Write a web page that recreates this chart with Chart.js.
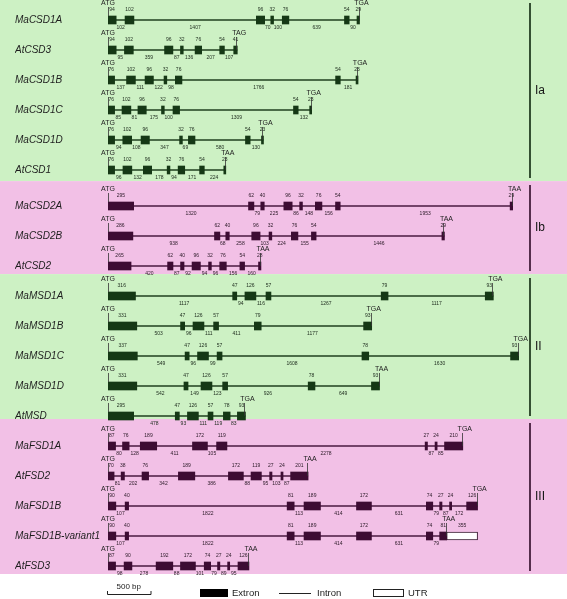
<!DOCTYPE html>
<html><head><meta charset="utf-8">
<script src="https://cdn.jsdelivr.net/npm/chart.js@4/dist/chart.umd.min.js"></script>
<style>html,body{margin:0;padding:0;background:#fff;}#wrap{width:567px;height:599px;position:relative;}</style>
</head><body><div id="wrap"><canvas id="c" width="567" height="599"></canvas></div>
<script>
// ---------- DATA ----------
const genes = ['MaCSD1A','AtCSD3','MaCSD1B','MaCSD1C','MaCSD1D','AtCSD1','MaCSD2A','MaCSD2B','AtCSD2','MaMSD1A','MaMSD1B','MaMSD1C','MaMSD1D','AtMSD','MaFSD1A','AtFSD2','MaFSD1B','MaFSD1B-variant1','AtFSD3'];
const geneGroups = ['Ia','Ia','Ia','Ia','Ia','Ia','Ib','Ib','Ib','II','II','II','II','II','III','III','III','III','III'];
const groupNames = ['Ia','Ib','II','III'];
const exonLengths = [
  [94,102,96,32,76,54,29],
  [94,102,96,32,76,54,41],
  [76,102,96,32,76,54,23],
  [76,102,96,32,76,54,23],
  [76,102,96,32,76,54,23],
  [76,102,96,32,76,54,23],
  [295,62,40,96,32,76,54,29],
  [286,62,40,96,32,76,54,29],
  [265,62,40,96,32,76,54,28],
  [316,47,126,57,79,93],
  [331,47,126,57,79,93],
  [337,47,126,57,78,93],
  [331,47,126,57,78,93],
  [295,47,126,57,78,93],
  [87,76,189,172,119,27,24,210],
  [70,38,76,189,172,119,27,24,201],
  [90,40,81,189,172,74,27,24,126],
  [90,40,81,189,172,74,81],
  [87,90,192,172,74,27,24,126]
];
const intronLengths = [
  [102,1407,70,100,639,90],
  [95,359,87,136,207,107],
  [137,111,122,98,1766,181],
  [85,81,175,100,1309,132],
  [94,108,347,69,580,130],
  [96,132,178,94,171,224],
  [1320,79,225,86,148,156,1953],
  [938,68,258,103,224,155,1446],
  [420,87,92,94,96,156,160],
  [1117,94,116,1267,1117],
  [503,96,111,411,1177],
  [549,96,99,1608,1630],
  [542,149,123,926,649],
  [478,93,111,119,83],
  [80,128,411,105,2278,87,85],
  [81,202,342,386,88,95,103,87],
  [107,1822,113,414,631,79,87,172],
  [107,1822,113,414,631,79],
  [98,278,88,101,79,89,95]
];
const utrLengths = [0,0,0,0,0,0,0,0,0,0,0,0,0,0,0,0,0,355,0];
const startCodon = 'ATG';
const stopCodons = ['TGA','TAG','TGA','TGA','TGA','TAA','TAA','TAA','TAA','TGA','TGA','TGA','TAA','TGA','TGA','TAA','TGA','TAA','TAA'];
const scaleBarBp = 500;
const legendLabels = ['500 bp','Extron','Intron','UTR'];

// ---------- LAYOUT / STYLE ----------
const GREEN = {bg:'rgb(205,241,196)', exon:'#153815', line:'#1f3f1f', sep:'#0e270e', text:'#1d2b1d'};
const PINK  = {bg:'rgb(242,192,230)', exon:'#3d0c33', line:'#4a1a40', sep:'#2e0826', text:'#2b1a27'};
const groupStyle = {Ia:GREEN, Ib:PINK, II:GREEN, III:PINK};
const bandEdges = [-0.667, 5.37, 8.47, 13.3, 18.467];
function rowValue(i){ return i + (geneGroups[i]==='Ia' ? 0 : 0.2); }

function layoutGene(i){
  let pos = 0; const ex = [], intr = [];
  exonLengths[i].forEach((len,k)=>{
    ex.push([pos,pos+len,len]); pos += len;
    if (k < intronLengths[i].length){ const L = intronLengths[i][k]; intr.push([pos,pos+L,L]); pos += L; }
  });
  const utr = utrLengths[i] ? [pos,pos+utrLengths[i],utrLengths[i]] : null;
  return {ex, intr, end:pos, utr};
}
const layouts = genes.map((g,i)=>layoutGene(i));

const exonData = [], exonColors = [];
layouts.forEach((L,i)=>L.ex.forEach(e=>{ exonData.push({x:[e[0],e[1]], y:rowValue(i)}); exonColors.push(groupStyle[geneGroups[i]].exon); }));
const utrData = [];
layouts.forEach((L,i)=>{ if (L.utr) utrData.push({x:[L.utr[0],L.utr[1]], y:rowValue(i)}); });

const datasets = [
  {type:'bar', label:'Extron', data:exonData, backgroundColor:exonColors, borderWidth:0, barThickness:8, grouped:false, order:0},
  {type:'bar', label:'UTR', data:utrData, backgroundColor:'#ffffff', borderColor:'#3a1a32', borderWidth:1, borderSkipped:false, barThickness:8, grouped:false, order:0}
];
layouts.forEach((L,i)=>{
  datasets.push({type:'line', label:'Intron '+genes[i], data:[{x:0,y:rowValue(i)},{x:L.end,y:rowValue(i)}],
    borderColor:groupStyle[geneGroups[i]].line, borderWidth:1.6, pointRadius:0, fill:false, order:1});
});

const FONT = '"Liberation Sans", Arial, sans-serif';
Chart.defaults.font.family = FONT;

const annot = {
  id:'annot',
  beforeDraw(chart){
    const {ctx, scales:{y}} = chart;
    ctx.save();
    ctx.fillStyle = '#fff'; ctx.fillRect(0,0,chart.width,chart.height);
    groupNames.forEach((g,k)=>{
      const t = y.getPixelForValue(bandEdges[k]), b = y.getPixelForValue(bandEdges[k+1]);
      ctx.fillStyle = groupStyle[g].bg; ctx.fillRect(0,t,chart.width,b-t);
    });
    ctx.restore();
  },
  afterDatasetsDraw(chart){
    const {ctx, scales:{x,y}} = chart;
    ctx.save();
    layouts.forEach((L,i)=>{
      const st = groupStyle[geneGroups[i]];
      const py = y.getPixelForValue(rowValue(i));
      ctx.fillStyle = st.text; ctx.textBaseline = 'middle'; ctx.textAlign = 'center';
      ctx.font = '5px ' + FONT;
      L.ex.forEach(e=>{ ctx.fillText(String(e[2]), (x.getPixelForValue(e[0])+x.getPixelForValue(e[1]))/2, py-10); });
      L.intr.forEach(e=>{ ctx.fillText(String(e[2]), (x.getPixelForValue(e[0])+x.getPixelForValue(e[1]))/2, py+8); });
      if (L.utr) ctx.fillText(String(L.utr[2]), (x.getPixelForValue(L.utr[0])+x.getPixelForValue(L.utr[1]))/2, py-10);
      const xs = x.getPixelForValue(0), xe = x.getPixelForValue(L.end);
      ctx.strokeStyle = '#333'; ctx.lineWidth = 0.8;
      ctx.beginPath(); ctx.moveTo(Math.round(xs)+0.5, py-13); ctx.lineTo(Math.round(xs)+0.5, py-4);
      ctx.moveTo(Math.round(xe)-0.5, py-13); ctx.lineTo(Math.round(xe)-0.5, py); ctx.stroke();
      ctx.font = '7px ' + FONT; ctx.fillStyle = '#222';
      ctx.fillText(startCodon, xs, py-17);
      ctx.fillText(stopCodons[i], xe+2, py-17);
    });
    ctx.restore();
  },
  afterDraw(chart){
    const {ctx, scales:{x,y}} = chart;
    ctx.save();
    groupNames.forEach((g,k)=>{
      const t = y.getPixelForValue(bandEdges[k]), b = y.getPixelForValue(bandEdges[k+1]);
      ctx.strokeStyle = groupStyle[g].sep; ctx.lineWidth = 1.6;
      ctx.beginPath(); ctx.moveTo(530, t + (k===0?3:4)); ctx.lineTo(530, b-3); ctx.stroke();
      ctx.fillStyle = '#151515'; ctx.font = '12px ' + FONT; ctx.textAlign='left'; ctx.textBaseline='middle';
      ctx.fillText(g, 535, (t+b)/2);
    });
    const x0 = 107, len = x.getPixelForValue(scaleBarBp) - x.getPixelForValue(0);
    ctx.strokeStyle = '#222'; ctx.lineWidth = 1;
    ctx.beginPath(); ctx.moveTo(x0+0.5, 591); ctx.lineTo(x0+0.5, 594.5); ctx.lineTo(x0+len+0.5, 594.5); ctx.lineTo(x0+len+0.5, 591); ctx.stroke();
    ctx.fillStyle = '#222'; ctx.textAlign='center'; ctx.textBaseline='middle'; ctx.font='8px ' + FONT;
    ctx.fillText(legendLabels[0], x0+len/2, 586.5);
    ctx.fillStyle = '#000'; ctx.fillRect(200, 589, 28, 8);
    ctx.textAlign='left'; ctx.font='9.5px ' + FONT; ctx.fillStyle='#222';
    ctx.fillText(legendLabels[1], 232, 593);
    ctx.beginPath(); ctx.moveTo(279, 593.5); ctx.lineTo(311, 593.5); ctx.stroke();
    ctx.fillText(legendLabels[2], 317, 593);
    ctx.strokeRect(373.5, 589.5, 30, 7);
    ctx.fillText(legendLabels[3], 408, 593);
    ctx.restore();
  }
};

new Chart(document.getElementById('c'), {
  data:{datasets},
  options:{
    indexAxis:'y', responsive:false, animation:false, events:[],
    layout:{padding:{left:15, right:44, top:0, bottom:25}},
    plugins:{legend:{display:false}, tooltip:{enabled:false}},
    scales:{
      x:{type:'linear', display:false, min:0, max:4770, grid:{display:false}},
      y:{type:'linear', reverse:true, min:bandEdges[0], max:bandEdges[4], offset:false,
        grid:{display:false}, border:{display:false},
        afterBuildTicks:(s)=>{ s.ticks = genes.map((g,i)=>({value:rowValue(i)})); },
        afterFit:(s)=>{ s.width = 93; s.paddingTop = 0; s.paddingBottom = 0; },
        ticks:{autoSkip:false, crossAlign:'far', color:'#1e1e1e', font:{size:10, style:'italic', family:FONT},
          callback:(v,idx)=>genes[idx]}
      }
    }
  },
  plugins:[annot]
});
</script></body></html>
